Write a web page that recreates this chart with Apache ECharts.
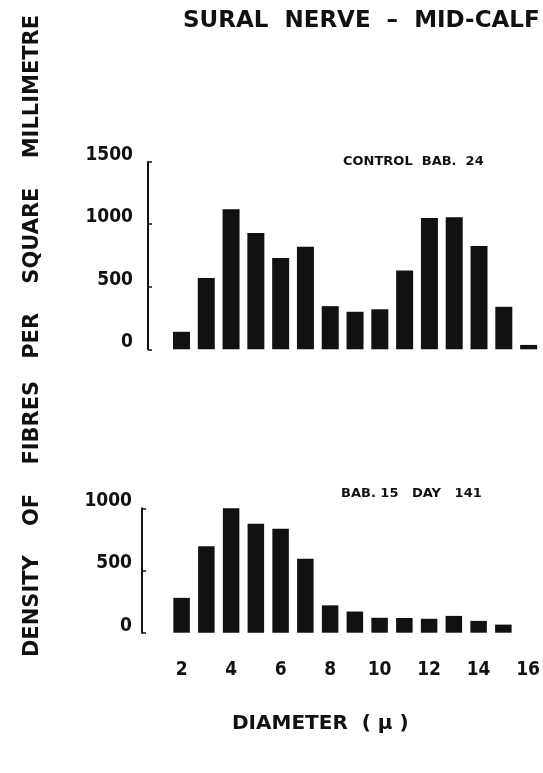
<!DOCTYPE html>
<html>
<head>
<meta charset="utf-8">
<script src="https://cdn.jsdelivr.net/npm/echarts@6/dist/echarts.min.js"></script>
<style>
    html, body { margin: 0; padding: 0; background: #fff; }
    #chart { width: 543px; height: 773px; }
</style>
</head>
<body>
<div id="chart"></div>
<script>
// fibre diameter classes (microns)
const diametersControl = [2, 3, 4, 5, 6, 7, 8, 9, 10, 11, 12, 13, 14, 15, 16];
const densityControl = [140, 570, 1120, 930, 730, 820, 345, 300, 320, 630, 1050, 1055, 825, 340, 35];
const diametersBab15 = [2, 3, 4, 5, 6, 7, 8, 9, 10, 11, 12, 13, 14, 15];
const densityBab15 = [280, 695, 1000, 875, 835, 595, 220, 170, 120, 118, 112, 135, 95, 65];
const xTickLabels = [2, 4, 6, 8, 10, 12, 14, 16];

const ink = "#111";
const numFont = "'DejaVu Sans Condensed', 'DejaVu Sans', sans-serif";
const textFont = "'DejaVu Sans', sans-serif";

function pairs(xs, ys) {
    let out = [];
    for (let i = 0; i < xs.length; i++) {
        out.push([xs[i], ys[i]]);
    }
    return out;
}

function yAxisStyle(max, margin) {
    return {
        type: "value",
        min: 0,
        max: max,
        interval: 500,
        axisLine: { show: true, lineStyle: { color: ink, width: 2 } },
        axisTick: { show: true, inside: true, length: 4, lineStyle: { color: ink, width: 1.5 } },
        splitLine: { show: false },
        axisLabel: {
            color: ink,
            fontFamily: numFont,
            fontWeight: "bold",
            fontSize: 19,
            margin: margin,
            verticalAlign: "bottom",
            lineHeight: 14,
            formatter: function (v) {
                return String(v);
            },
        },
    };
}

let chart = echarts.init(document.getElementById("chart"));
chart.setOption({
    animation: false,
    grid: [
        { left: 148, right: 2, top: 161.7, height: 187.6 },
        { left: 142, right: 4, top: 508.3, height: 124.4 },
    ],
    xAxis: [
        {
            gridIndex: 0,
            type: "value",
            min: 0.65,
            max: 16.5,
            show: false,
        },
        {
            gridIndex: 1,
            type: "value",
            min: 0.4,
            max: 16.4,
            axisLine: { show: false },
            axisTick: { show: false },
            splitLine: { show: false },
            axisLabel: {
                customValues: xTickLabels,
                color: ink,
                fontFamily: numFont,
                fontWeight: "bold",
                fontSize: 19,
                margin: 28,
            },
        },
    ],
    yAxis: [
        Object.assign({ gridIndex: 0 }, yAxisStyle(1500, 15)),
        Object.assign({ gridIndex: 1 }, yAxisStyle(1000, 10)),
    ],
    series: [
        {
            type: "bar",
            xAxisIndex: 0,
            yAxisIndex: 0,
            barWidth: 17,
            itemStyle: { color: ink },
            data: pairs(diametersControl, densityControl),
        },
        {
            type: "bar",
            xAxisIndex: 1,
            yAxisIndex: 1,
            barWidth: 16.5,
            itemStyle: { color: ink },
            data: pairs(diametersBab15, densityBab15),
        },
    ],
    graphic: [
        {
            type: "text",
            left: 183,
            top: 10,
            style: {
                text: "SURAL  NERVE  –  MID-CALF",
                fill: ink,
                font: "bold 23px " + textFont,
            },
        },
        {
            type: "text",
            x: 33,
            y: 336,
            rotation: Math.PI / 2,
            style: {
                text: "DENSITY    OF    FIBRES   PER    SQUARE    MILLIMETRE",
                fill: ink,
                font: "bold 21px " + textFont,
                align: "center",
                verticalAlign: "middle",
            },
        },
        {
            type: "text",
            left: 343,
            top: 155,
            style: {
                text: "CONTROL  BAB.  24",
                fill: ink,
                font: "bold 13px " + textFont,
            },
        },
        {
            type: "text",
            left: 341,
            top: 487,
            style: {
                text: "BAB. 15   DAY   141",
                fill: ink,
                font: "bold 13px " + textFont,
            },
        },
        {
            type: "text",
            left: 232,
            top: 714,
            style: {
                text: "DIAMETER  ( µ )",
                fill: ink,
                font: "bold 20px " + textFont,
            },
        },
    ],
});
</script>
</body>
</html>
